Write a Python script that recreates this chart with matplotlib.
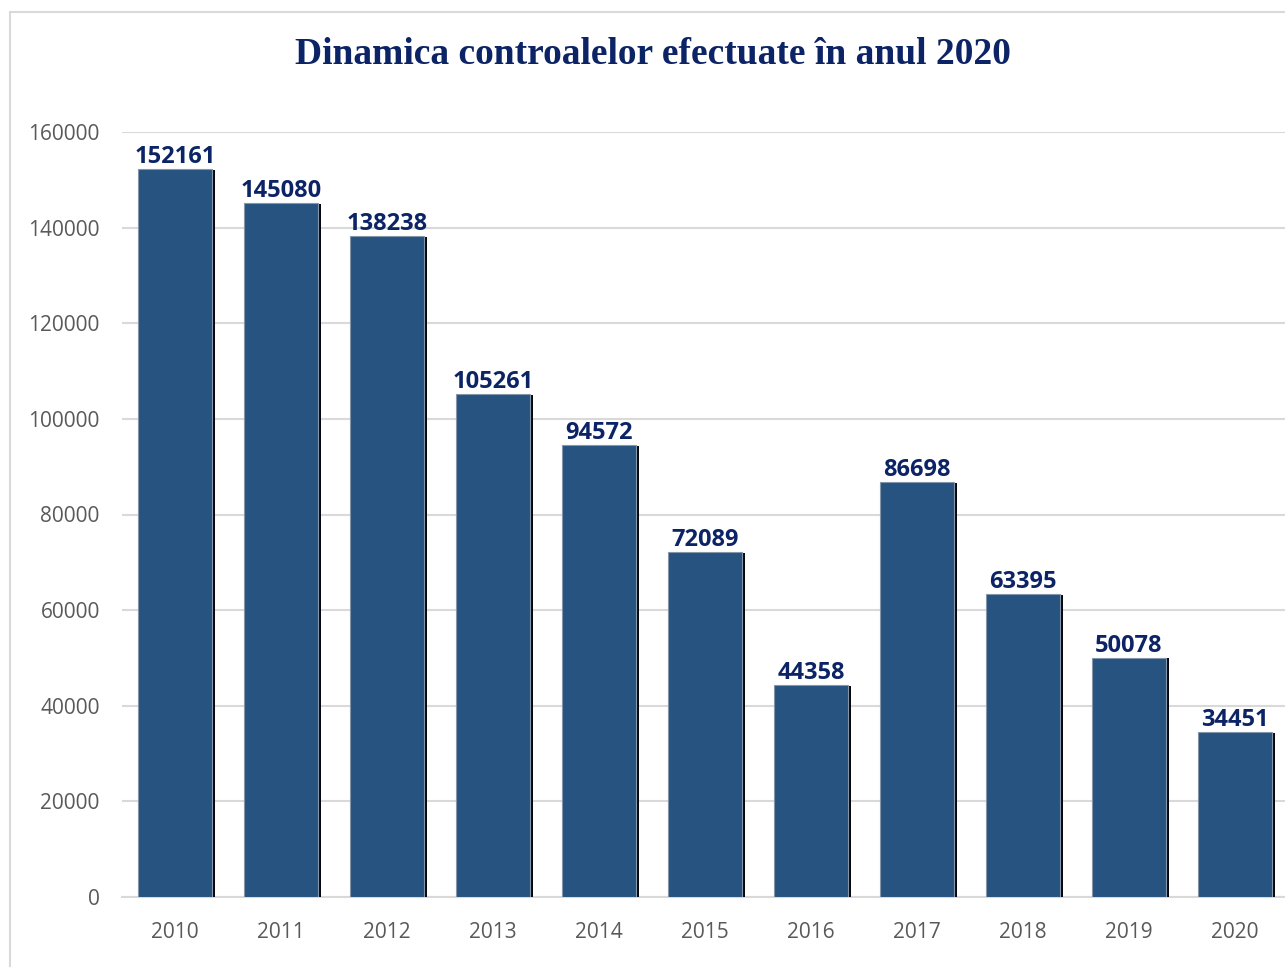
import matplotlib
matplotlib.use('Agg')
import matplotlib.pyplot as plt
import matplotlib.patheffects as pe
from matplotlib.patches import Rectangle

# data #
years = ['2010', '2011', '2012', '2013', '2014', '2015',
         '2016', '2017', '2018', '2019', '2020']
controls = [152161, 145080, 138238, 105261, 94572, 72089,
            44358, 86698, 63395, 50078, 34451]
y_ticks = [0, 20000, 40000, 60000, 80000, 100000, 120000, 140000, 160000]
title = 'Dinamica controalelor efectuate în anul 2020'

bar_color = '#26537f'
navy = '#0c2466'
grid_color = '#d9d9d9'
tick_color = '#595959'

fig = plt.figure(figsize=(12.85, 9.67), dpi=100)

# outer chart frame #
fig.patches.append(Rectangle((10 / 1285, -0.05), 1.1, 1 - 12 / 967 + 0.05,
                             transform=fig.transFigure, fill=False,
                             edgecolor=grid_color, linewidth=1.5))

ax = fig.add_axes([122 / 1285, 1 - 897 / 967, 1166 / 1285, 765 / 967])

x = list(range(len(years)))
bars = ax.bar(x, controls, width=0.7, color=bar_color,
              edgecolor='#8596ab', linewidth=0.8, zorder=3)
for b in bars:
    b.set_path_effects([pe.SimplePatchShadow(offset=(1.8, -0.6),
                                             shadow_rgbFace='#05080d', alpha=1.0),
                        pe.Normal()])

for xi, v in zip(x, controls):
    ax.annotate(str(v), (xi, v), xytext=(0, 0), textcoords='offset points',
                ha='center', va='bottom', fontsize=17, fontweight='bold',
                color=navy, family='Open Sans', zorder=4)

ax.set_xlim(-0.5, len(years) - 0.5)
ax.set_ylim(0, 160000)
ax.set_yticks(y_ticks)
ax.set_yticklabels([str(t) for t in y_ticks])
ax.set_xticks(x)
ax.set_xticklabels(years)
ax.tick_params(axis='both', length=0, labelsize=15, labelcolor=tick_color)
ax.tick_params(axis='y', pad=16)
ax.tick_params(axis='x', pad=18)
for lab in ax.get_xticklabels() + ax.get_yticklabels():
    lab.set_family('Open Sans')

ax.grid(axis='y', color=grid_color, linewidth=1.5, zorder=0)
ax.set_axisbelow(True)
for s in ['top', 'right', 'left']:
    ax.spines[s].set_visible(False)
ax.spines['bottom'].set_color(grid_color)
ax.spines['bottom'].set_linewidth(1.5)

fig.text(653 / 1285, 1 - 55 / 967, title, ha='center', va='center',
         fontsize=27, fontweight='bold', color=navy, family='Liberation Serif')

plt.savefig('out.png', dpi=100)
